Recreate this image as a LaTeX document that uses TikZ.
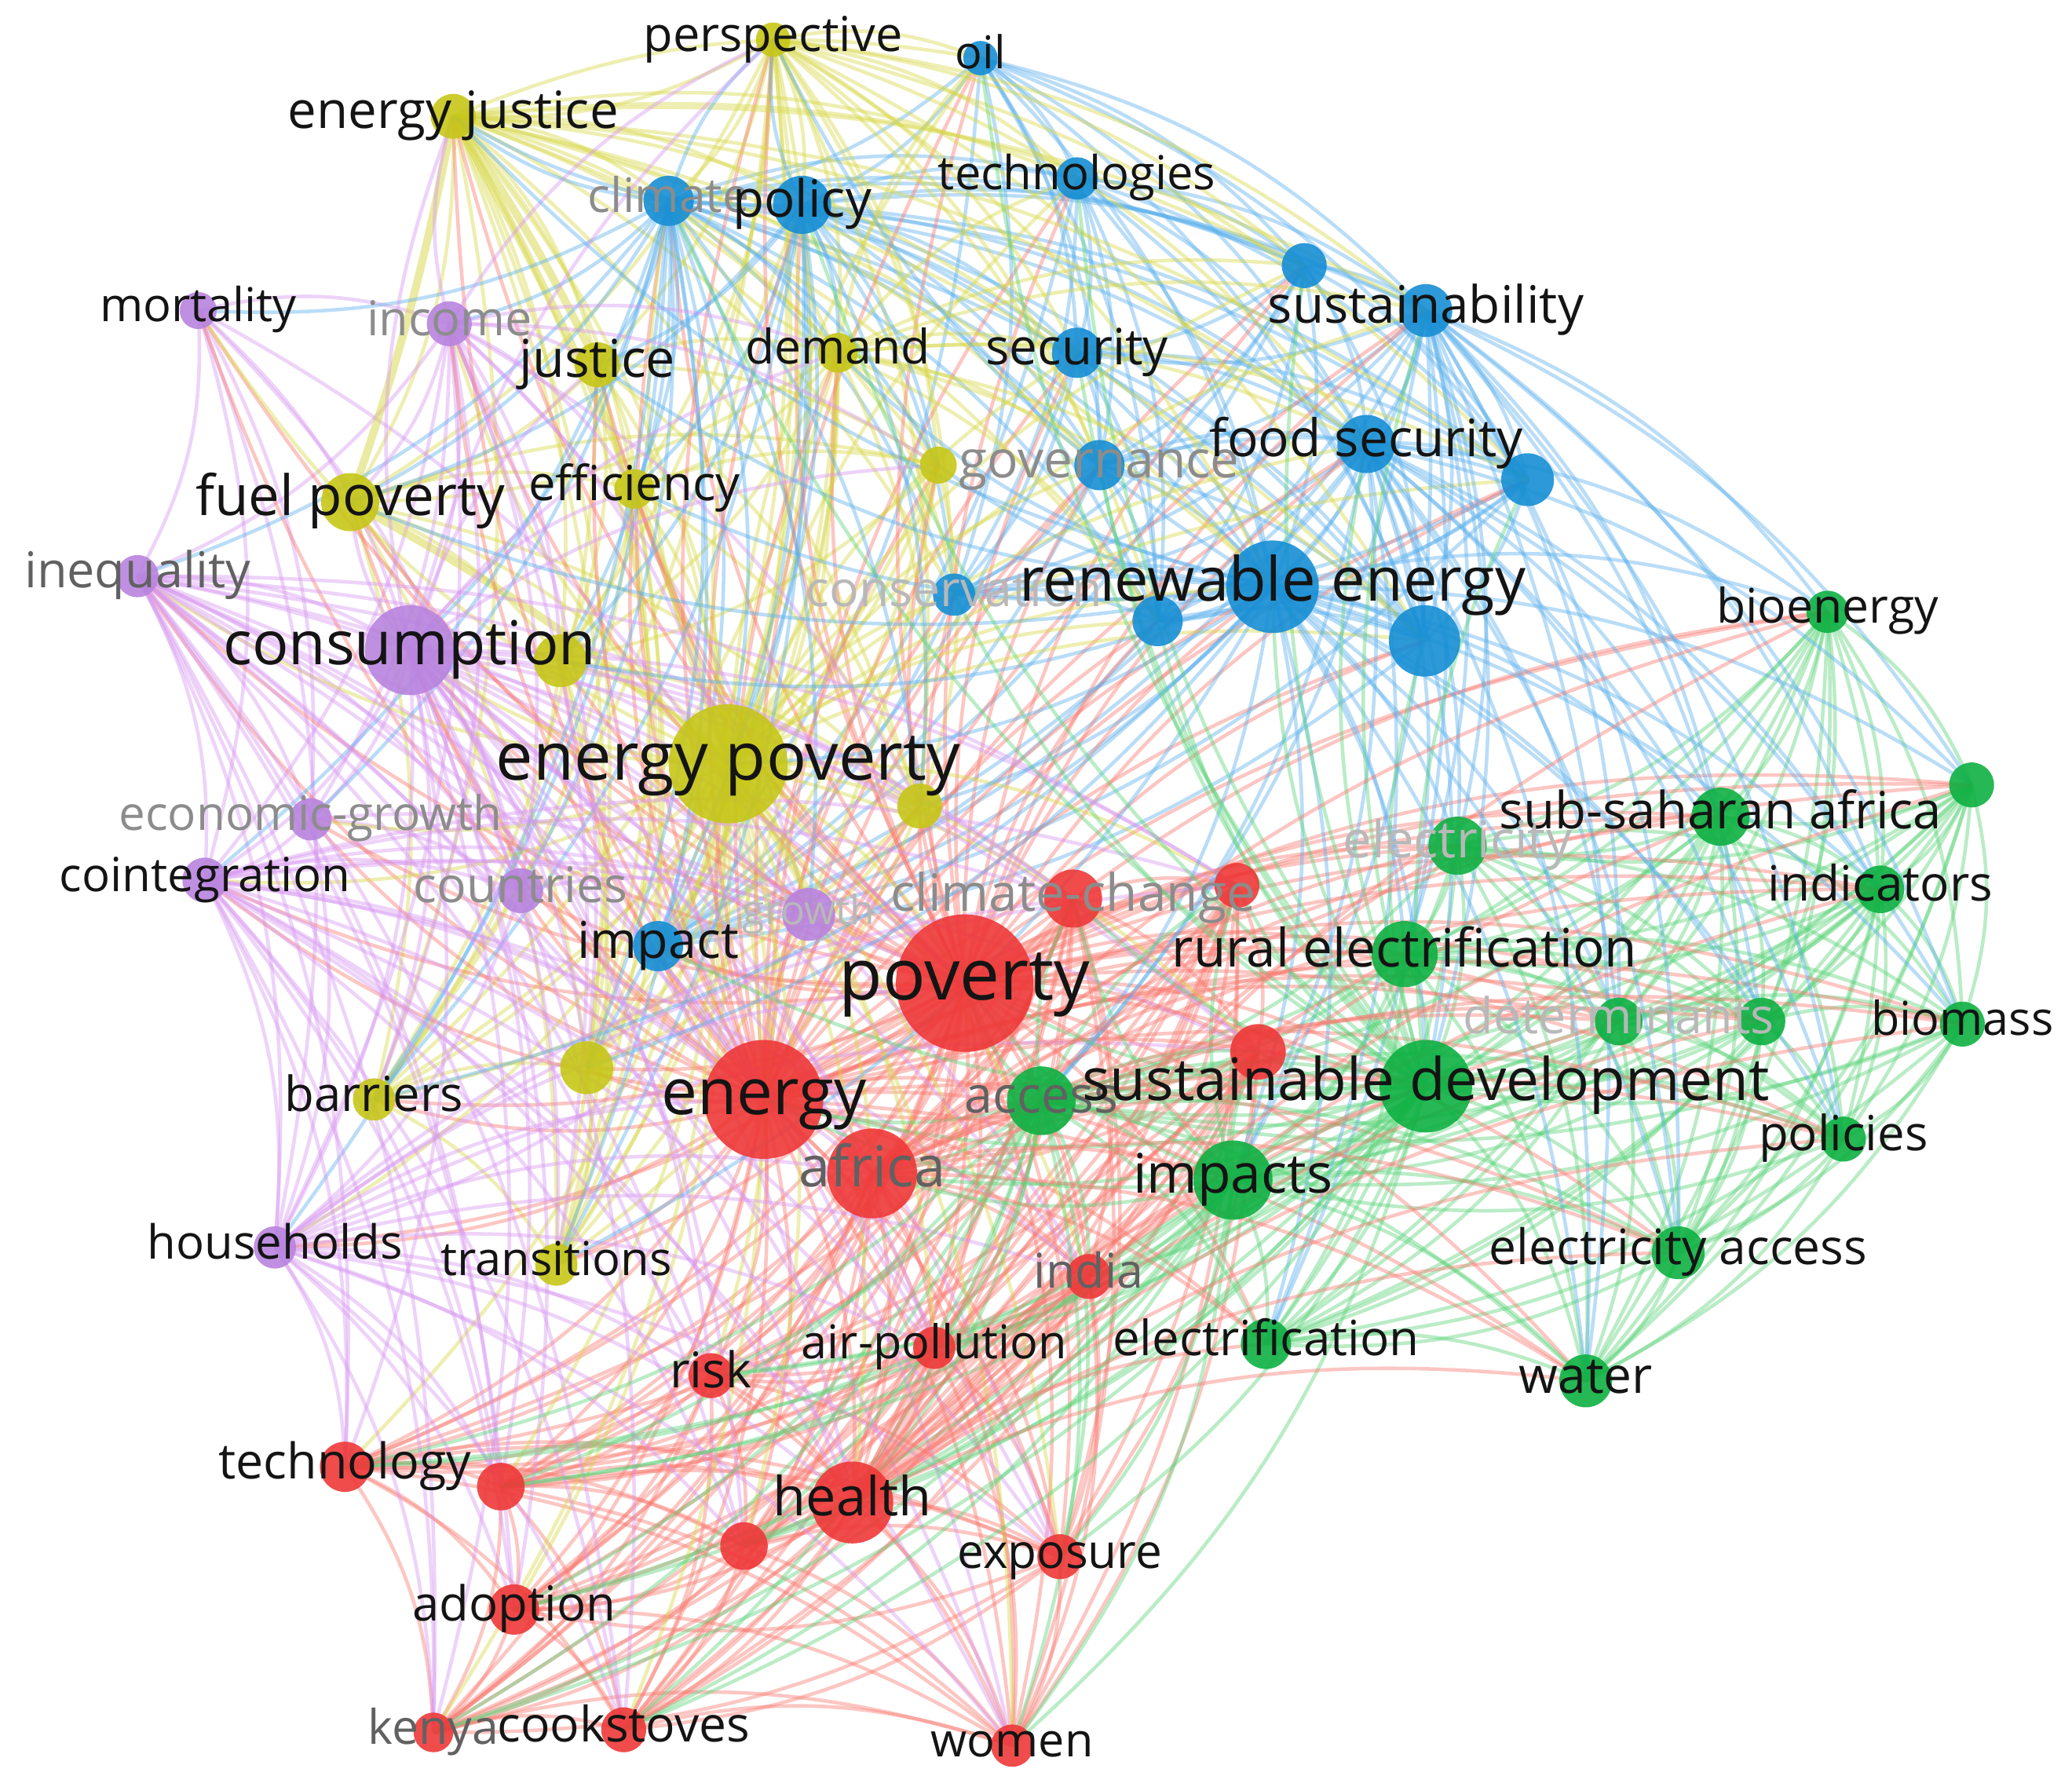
\documentclass[tikz,border=0pt]{standalone}
\usepackage{fontspec}
\setmainfont{Open Sans}
\usepackage{graphicx}

% cluster colours (circles)
\definecolor{kred}{RGB}{238,56,56}
\definecolor{kgreen}{RGB}{14,176,66}
\definecolor{kblue}{RGB}{22,142,212}
\definecolor{kyellow}{RGB}{198,198,24}
\definecolor{kpurple}{RGB}{184,132,222}
% cluster colours (links)
\definecolor{ered}{RGB}{248,120,110}
\definecolor{egreen}{RGB}{90,210,120}
\definecolor{eblue}{RGB}{90,175,235}
\definecolor{eyellow}{RGB}{214,214,70}
\definecolor{epurple}{RGB}{214,150,240}

\newdimen\pxu \pxu=0.5pt
\newcommand{\kw}[2]{\resizebox{#1\pxu}{!}{\strut #2}}

% keyword lists of the five clusters
\def\rlist{poverty,climchg,rA,rB,energy,africa,india,airpol,risk,technology,rC,health,rD,exposure,adoption,kenya,cookstoves,women}
\def\glist{bioenergy,gA,ssa,electricity,indicators,ruralel,determinants,gB,biomass,access,susdev,policies,impacts,elaccess,electrification,water}
\def\blist{oil,climate,policy,technologies,bA,sustainability,security,governance,foodsec,bB,conservation,renew,bC,bD,impact}
\def\ylist{perspective,enjust,justice,demand,fuelpov,efficiency,yA,yB,enpov,yC,barriers,yD,transitions}
\def\plist{mortality,income,inequality,consumption,econgrowth,cointegration,countries,growth,households}

\begin{document}
\begin{tikzpicture}[x=0.5pt, y=-0.5pt,
    link/.style={line width=1.35pt, draw opacity=.42},
    strong/.style={line width=3pt, draw opacity=.5},
    redge/.style={link, draw=ered},
    gedge/.style={link, draw=egreen},
    bedge/.style={link, draw=eblue},
    yedge/.style={link, draw=eyellow},
    pedge/.style={link, draw=epurple},
    kwtext/.style={inner sep=0pt, text=black!92},
    kwgray/.style={inner sep=0pt, text=black!62},
    kwfaint/.style={inner sep=0pt, text=black!45},
    kwghost/.style={inner sep=0pt, text=black!28}]
\useasboundingbox (0,0) rectangle (1568,1352);

% Keyword positions: red cluster
\coordinate (poverty) at (730,744);
\coordinate (climchg) at (812,680);
\coordinate (rA) at (936,670);
\coordinate (rB) at (952,796);
\coordinate (energy) at (578,832);
\coordinate (africa) at (660,888);
\coordinate (india) at (824,966);
\coordinate (airpol) at (707,1020);
\coordinate (risk) at (538,1041);
\coordinate (technology) at (261,1110);
\coordinate (rC) at (379,1125);
\coordinate (health) at (645,1137);
\coordinate (rD) at (563,1170);
\coordinate (exposure) at (802,1178);
\coordinate (adoption) at (389,1218);
\coordinate (kenya) at (328,1311);
\coordinate (cookstoves) at (472,1309);
\coordinate (women) at (766,1321);

% Keyword positions: green cluster
\coordinate (bioenergy) at (1383,463);
\coordinate (gA) at (1492,594);
\coordinate (ssa) at (1302,618);
\coordinate (electricity) at (1103,640);
\coordinate (indicators) at (1423,673);
\coordinate (ruralel) at (1063,722);
\coordinate (determinants) at (1225,773);
\coordinate (gB) at (1333,773);
\coordinate (biomass) at (1485,775);
\coordinate (access) at (788,833);
\coordinate (susdev) at (1079,822);
\coordinate (policies) at (1395,862);
\coordinate (impacts) at (933,893);
\coordinate (elaccess) at (1270,948);
\coordinate (electrification) at (958,1017);
\coordinate (water) at (1200,1045);

% Keyword positions: blue cluster
\coordinate (oil) at (742,44);
\coordinate (climate) at (506,152);
\coordinate (policy) at (607,155);
\coordinate (technologies) at (815,135);
\coordinate (bA) at (987,201);
\coordinate (sustainability) at (1079,235);
\coordinate (security) at (815,267);
\coordinate (governance) at (832,352);
\coordinate (foodsec) at (1034,336);
\coordinate (bB) at (1156,363);
\coordinate (conservation) at (722,450);
\coordinate (renew) at (963,444);
\coordinate (bC) at (876,470);
\coordinate (bD) at (1078,485);
\coordinate (impact) at (498,716);

% Keyword positions: yellow cluster
\coordinate (perspective) at (585,30);
\coordinate (enjust) at (343,88);
\coordinate (justice) at (452,276);
\coordinate (demand) at (634,267);
\coordinate (fuelpov) at (265,380);
\coordinate (efficiency) at (480,370);
\coordinate (yA) at (710,352);
\coordinate (yB) at (424,500);
\coordinate (enpov) at (551,578);
\coordinate (yC) at (696,610);
\coordinate (barriers) at (283,832);
\coordinate (yD) at (444,808);
\coordinate (transitions) at (421,957);

% Keyword positions: purple cluster
\coordinate (mortality) at (150,235);
\coordinate (income) at (340,245);
\coordinate (inequality) at (104,436);
\coordinate (consumption) at (310,492);
\coordinate (econgrowth) at (235,620);
\coordinate (cointegration) at (155,666);
\coordinate (countries) at (394,674);
\coordinate (growth) at (612,692);
\coordinate (households) at (208,944);

% Links inside each cluster
\foreach \a [count=\i] in \rlist {\foreach \b [count=\j] in \rlist {
  \ifnum\j>\i \draw[redge] (\a) to[bend left=16] (\b); \fi}}
\foreach \a [count=\i] in \glist {\foreach \b [count=\j] in \glist {
  \ifnum\j>\i \draw[gedge] (\a) to[bend left=16] (\b); \fi}}
\foreach \a [count=\i] in \blist {\foreach \b [count=\j] in \blist {
  \ifnum\j>\i \draw[bedge] (\a) to[bend left=16] (\b); \fi}}
\foreach \a [count=\i] in \ylist {\foreach \b [count=\j] in \ylist {
  \ifnum\j>\i \draw[yedge] (\a) to[bend left=16] (\b); \fi}}
\foreach \a [count=\i] in \plist {\foreach \b [count=\j] in \plist {
  \ifnum\j>\i \draw[pedge] (\a) to[bend left=16] (\b); \fi}}

% Strong links
\draw[yedge, strong] (enjust) to[bend left=4] (justice);
\draw[yedge, strong] (enjust) to[bend left=4] (fuelpov);
\draw[yedge, strong] (fuelpov) to[bend left=6] (enpov);
\draw[yedge, strong] (enjust) to[bend left=6] (enpov);

% Links between clusters
\foreach \t in \glist {\draw[redge] (poverty) to[bend left=16] (\t);}
\foreach \t in \blist {\draw[redge] (poverty) to[bend left=16] (\t);}
\foreach \t in \ylist {\draw[redge] (poverty) to[bend left=16] (\t);}
\foreach \t in \plist {\draw[redge] (poverty) to[bend left=16] (\t);}
\foreach \t in \glist {\draw[redge] (energy) to[bend left=16] (\t);}
\foreach \t in \blist {\draw[redge] (energy) to[bend left=16] (\t);}
\foreach \t in \ylist {\draw[redge] (energy) to[bend left=16] (\t);}
\foreach \t in \plist {\draw[redge] (energy) to[bend left=16] (\t);}
\foreach \t in \rlist {\draw[yedge] (enpov) to[bend left=16] (\t);}
\foreach \t in \blist {\draw[yedge] (enpov) to[bend left=16] (\t);}
\foreach \t in \plist {\draw[yedge] (enpov) to[bend left=16] (\t);}
\foreach \t in \blist {\draw[yedge] (perspective) to[bend left=16] (\t);}
\foreach \t in \blist {\draw[yedge] (demand) to[bend left=16] (\t);}
\foreach \t in \blist {\draw[yedge] (enjust) to[bend left=16] (\t);}
\foreach \t in \ylist {\draw[bedge] (policy) to[bend left=16] (\t);}
\foreach \t in \ylist {\draw[bedge] (climate) to[bend left=16] (\t);}
\foreach \t in \plist {\draw[bedge] (climate) to[bend left=16] (\t);}
\foreach \t in \ylist {\draw[pedge] (consumption) to[bend left=16] (\t);}
\foreach \t in \rlist {\draw[pedge] (consumption) to[bend left=16] (\t);}
\foreach \t in \rlist {\draw[pedge] (inequality) to[bend left=16] (\t);}
\foreach \t in \rlist {\draw[pedge] (cointegration) to[bend left=16] (\t);}
\foreach \t in \rlist {\draw[pedge] (households) to[bend left=16] (\t);}
\foreach \t in \ylist {\draw[pedge] (income) to[bend left=16] (\t);}
\foreach \t in \glist {\draw[bedge] (renew) to[bend left=16] (\t);}
\foreach \t in \ylist {\draw[bedge] (renew) to[bend left=16] (\t);}
\foreach \t in \glist {\draw[bedge] (foodsec) to[bend left=16] (\t);}
\foreach \t in \glist {\draw[bedge] (sustainability) to[bend left=16] (\t);}
\foreach \t in \blist {\draw[gedge] (susdev) to[bend left=16] (\t);}
\foreach \t in \rlist {\draw[gedge] (susdev) to[bend left=16] (\t);}
\foreach \t in \rlist {\draw[gedge] (impacts) to[bend left=16] (\t);}
\foreach \t in \rlist {\draw[gedge] (access) to[bend left=16] (\t);}
\foreach \t in \glist {\draw[redge] (africa) to[bend left=16] (\t);}
\foreach \t in \glist {\draw[redge] (health) to[bend left=16] (\t);}

% Keyword circles
\foreach \n/\r/\c in {
  poverty/52/kred, climchg/22/kred, rA/17/kred, rB/21/kred, energy/45/kred,
  africa/34/kred, india/17/kred, airpol/16/kred, risk/17/kred, technology/19/kred,
  rC/18/kred, health/31/kred, rD/18/kred, exposure/17/kred, adoption/19/kred,
  kenya/15/kred, cookstoves/17/kred, women/16/kred,
  bioenergy/16/kgreen, gA/17/kgreen, ssa/22/kgreen, electricity/22/kgreen,
  indicators/18/kgreen, ruralel/25/kgreen, determinants/18/kgreen, gB/18/kgreen,
  biomass/17/kgreen, access/26/kgreen, susdev/35/kgreen, policies/17/kgreen,
  impacts/30/kgreen, elaccess/20/kgreen, electrification/19/kgreen, water/20/kgreen,
  oil/13/kblue, climate/19/kblue, policy/22/kblue, technologies/16/kblue,
  bA/17/kblue, sustainability/20/kblue, security/19/kblue, governance/19/kblue,
  foodsec/22/kblue, bB/20/kblue, conservation/16/kblue, renew/35/kblue,
  bC/19/kblue, bD/27/kblue, impact/19/kblue,
  perspective/13/kyellow, enjust/17/kyellow, justice/17/kyellow, demand/15/kyellow,
  fuelpov/22/kyellow, efficiency/15/kyellow, yA/14/kyellow, yB/20/kyellow,
  enpov/45/kyellow, yC/17/kyellow, barriers/16/kyellow, yD/20/kyellow,
  transitions/16/kyellow,
  mortality/14/kpurple, income/17/kpurple, inequality/16/kpurple,
  consumption/34/kpurple, econgrowth/16/kpurple, cointegration/17/kpurple,
  countries/17/kpurple, growth/20/kpurple, households/16/kpurple}
  \fill[\c, fill opacity=.9] (\n) circle (\r);

% Keyword labels
\foreach \n/\w/\t/\s in {
  poverty/190/poverty/kwtext, climchg/276/climate-change/kwfaint,
  energy/155/energy/kwtext, africa/111/africa/kwgray, india/83/india/kwgray,
  airpol/201/air-pollution/kwtext, risk/62/risk/kwtext,
  technology/191/technology/kwtext, health/120/health/kwtext,
  exposure/155/exposure/kwtext, adoption/154/adoption/kwtext,
  kenya/99/kenya/kwgray, cookstoves/191/cookstoves/kwtext, women/123/women/kwtext,
  bioenergy/168/bioenergy/kwtext, ssa/335/sub-saharan africa/kwtext,
  electricity/173/electricity/kwghost, indicators/170/indicators/kwtext,
  ruralel/352/rural electrification/kwtext, determinants/235/determinants/kwghost,
  biomass/138/biomass/kwtext, access/116/access/kwgray,
  susdev/520/sustainable development/kwtext, policies/128/policies/kwtext,
  impacts/151/impacts/kwtext, elaccess/286/electricity access/kwtext,
  electrification/232/electrification/kwtext, water/101/water/kwtext,
  oil/38/oil/kwtext, climate/122/climate/kwfaint, policy/105/policy/kwtext,
  technologies/210/technologies/kwtext, sustainability/239/sustainability/kwtext,
  security/138/security/kwtext, governance/212/governance/kwfaint,
  foodsec/237/food security/kwtext, conservation/224/conservation/kwghost,
  renew/383/renewable energy/kwtext, impact/122/impact/kwtext,
  perspective/196/perspective/kwtext, enjust/250/energy justice/kwtext,
  justice/118/justice/kwtext, demand/140/demand/kwtext,
  fuelpov/234/fuel poverty/kwtext, efficiency/160/efficiency/kwtext,
  enpov/351/energy poverty/kwtext, barriers/135/barriers/kwtext,
  transitions/175/transitions/kwtext,
  mortality/149/mortality/kwtext, income/125/income/kwfaint,
  inequality/171/inequality/kwgray, consumption/282/consumption/kwtext,
  econgrowth/290/economic-growth/kwfaint, cointegration/220/cointegration/kwtext,
  countries/162/countries/kwfaint, growth/100/growth/kwghost,
  households/193/households/kwtext}
  \node[\s] (L\n) at (\n) {\kw{\w}{\t}};
\end{tikzpicture}
\end{document}
